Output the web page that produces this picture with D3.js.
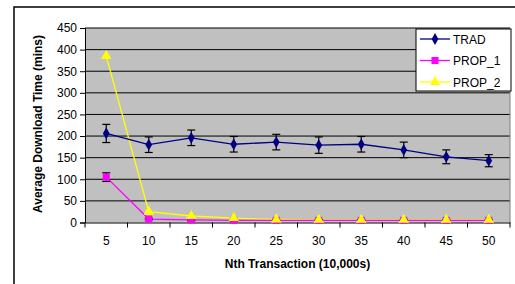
<!DOCTYPE html>
<html><head><meta charset="utf-8">
<script src="https://cdn.jsdelivr.net/npm/d3@7"></script>
<style>
html,body{margin:0;padding:0;background:#fff;overflow:hidden;}
svg{display:block;font-family:"Liberation Sans",Arial,sans-serif;}
</style></head>
<body>
<svg id="c" width="515" height="284"></svg>
<script>
const categories = [5,10,15,20,25,30,35,40,45,50];
const seriesNames = ["TRAD","PROP_1","PROP_2"];
const trad = [206,180,196,181,186,179,181,168,152,143];
const tradErr = [21,18,18,18,18,19,18,18,16,14];
const prop1 = [105,8,6,5,5,5,5,5,5,5];
const prop1Err = [10,2,2,2,2,2,2,2,2,2];
const prop2 = [385,25,15,10,7,6,6,6,6,6];
const yTicks = [0,50,100,150,200,250,300,350,400,450];

const svg = d3.select("#c");
const L=85, R=510, T=28, B=222.5;

// outer border
svg.append("rect").attr("x",14).attr("y",7).attr("width",520).attr("height",300)
  .attr("fill","#fff").attr("stroke","#000").attr("stroke-width",1.5);

const x = d3.scaleBand().domain(categories).range([L,R]);
const y = d3.scaleLinear().domain([0,450]).range([B,T]);

svg.append("rect").attr("x",L).attr("y",T).attr("width",R-L).attr("height",B-T).attr("fill","#c0c0c0");

// gridlines
svg.append("g").selectAll("line").data(yTicks.slice(1)).join("line")
  .attr("x1",L).attr("x2",R).attr("y1",d=>y(d)).attr("y2",d=>y(d))
  .attr("stroke","#000").attr("stroke-width",1);
svg.append("line").attr("x1",R).attr("x2",R).attr("y1",T).attr("y2",B).attr("stroke","#808080");

// y axis
const ya = svg.append("g").attr("transform",`translate(${L},0)`)
  .call(d3.axisLeft(y).tickValues(yTicks).tickSize(5).tickPadding(3));
ya.select(".domain").attr("stroke","#000");
ya.selectAll("text").attr("font-size",12).attr("fill","#000").attr("font-family","Liberation Sans, Arial");

// x axis
const xa = svg.append("g").attr("transform",`translate(0,${B})`)
  .call(d3.axisBottom(x).tickSize(0).tickPadding(14));
xa.select(".domain").attr("stroke","#000");
xa.selectAll("text").attr("font-size",12).attr("fill","#000").attr("font-family","Liberation Sans, Arial");
const bounds = categories.map((c,i)=>x(c)).concat([R]);
svg.append("g").selectAll("line").data(bounds).join("line")
  .attr("x1",d=>d).attr("x2",d=>d).attr("y1",B).attr("y2",B+5).attr("stroke","#000");

const cx = d => x(d)+x.bandwidth()/2;

function drawSeries(vals, errs, color, shape, size){
  const g = svg.append("g");
  const line = d3.line().x((d,i)=>cx(categories[i])).y(d=>y(d));
  g.append("path").datum(vals).attr("d",line).attr("fill","none").attr("stroke",color).attr("stroke-width",1.3);
  if(errs){
    vals.forEach((v,i)=>{
      const xx=cx(categories[i]);
      const e=g.append("g").attr("stroke","#000").attr("stroke-width",1.2);
      e.append("line").attr("x1",xx).attr("x2",xx).attr("y1",y(v+errs[i])).attr("y2",y(v-errs[i]));
      e.append("line").attr("x1",xx-4).attr("x2",xx+4).attr("y1",y(v+errs[i])).attr("y2",y(v+errs[i]));
      e.append("line").attr("x1",xx-4).attr("x2",xx+4).attr("y1",y(v-errs[i])).attr("y2",y(v-errs[i]));
    });
  }
  g.selectAll("path.m").data(vals).join("path").attr("class","m")
    .attr("transform",(d,i)=>`translate(${cx(categories[i])},${y(d)})`)
    .attr("d",d3.symbol().type(shape).size(size)).attr("fill",color);
}
drawSeries(prop2, null, "#ffff00", d3.symbolTriangle, 45);
drawSeries(prop1, prop1Err, "#ff00ff", d3.symbolSquare, 50);
drawSeries(trad, tradErr, "#000080", d3.symbolDiamond, 40);
// PROP_2 markers on top
svg.append("g").selectAll("path").data(prop2).join("path")
  .attr("transform",(d,i)=>`translate(${cx(categories[i])},${y(d)})`)
  .attr("d",d3.symbol().type(d3.symbolTriangle).size(45)).attr("fill","#ffff00");

// axis titles
svg.append("text").attr("transform",`translate(42,124) rotate(-90)`)
  .attr("text-anchor","middle").attr("font-size",12).attr("font-weight","bold").text("Average Download Time (mins)");
svg.append("text").attr("x",(L+R)/2).attr("y",268).attr("text-anchor","middle")
  .attr("font-size",12).attr("font-weight","bold").text("Nth Transaction (10,000s)");

// legend
const lg = svg.append("g");
lg.append("rect").attr("x",416).attr("y",29).attr("width",95).attr("height",62).attr("fill","#fff").attr("stroke","#000");
const colors=["#000080","#ff00ff","#ffff00"];
const shapes=[d3.symbolDiamond,d3.symbolSquare,d3.symbolTriangle];
const sizes=[40,50,45];
seriesNames.forEach((n,i)=>{
  const yy=39+i*21.5;
  lg.append("line").attr("x1",420).attr("x2",450).attr("y1",yy).attr("y2",yy).attr("stroke",colors[i]).attr("stroke-width",1.3);
  lg.append("path").attr("transform",`translate(435,${yy})`).attr("d",d3.symbol().type(shapes[i]).size(sizes[i])).attr("fill",colors[i]);
  lg.append("text").attr("x",453).attr("y",yy+4.5).attr("font-size",12).text(n);
});
</script>
</body></html>
